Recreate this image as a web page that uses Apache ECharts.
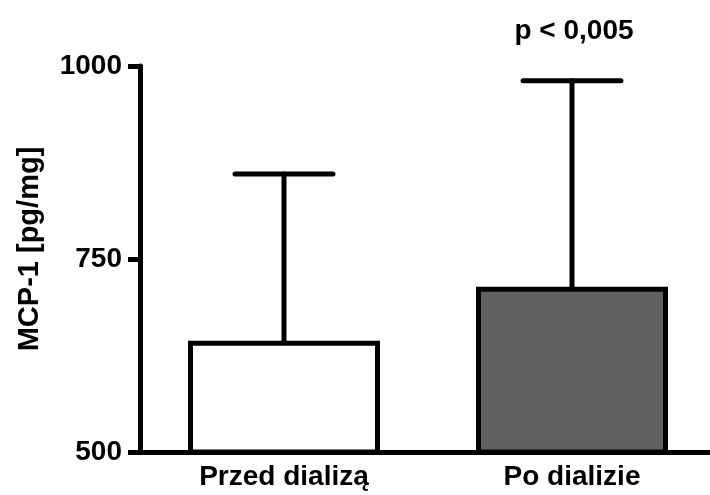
<!DOCTYPE html>
<html>
<head>
<meta charset="utf-8">
<script src="https://cdn.jsdelivr.net/npm/echarts@6/dist/echarts.min.js"></script>
<style>
  html, body { margin: 0; padding: 0; background: #fff; }
  #chart { width: 710px; height: 495px; }
</style>
</head>
<body>
<div id="chart"></div>
<script>
const categories = ['Przed dializą', 'Po dializie'];
const means = [644, 714];
const sdUp = [216, 267];
const barColors = ['#ffffff', '#616161'];
const yTicks = [500, 750, 1000];
const pText = 'p < 0,005';

const font = 'Arial, "Liberation Sans", sans-serif';
const chart = echarts.init(document.getElementById('chart'));

const errData = means.map((m, i) => [i, m, m + sdUp[i]]);

const op = {
  animation: false,
  grid: {
    left: 140,
    width: 576,
    top: 66,
    bottom: 43,
    outerBoundsMode: 'none',
    containLabel: false
  },
  xAxis: {
    type: 'category',
    data: categories,
    axisLine: { lineStyle: { color: '#000', width: 5 } },
    axisTick: { alignWithLabel: true, length: 8, lineStyle: { color: '#000', width: 4 } },
    axisLabel: {
      margin: 11,
      color: '#000',
      fontFamily: font,
      fontWeight: 'bold',
      fontSize: 28
    }
  },
  yAxis: {
    type: 'value',
    min: yTicks[0],
    max: yTicks[yTicks.length - 1],
    interval: 250,
    name: 'MCP-1 [pg/mg]',
    nameLocation: 'middle',
    nameGap: 96,
    nameTextStyle: {
      color: '#000',
      fontFamily: font,
      fontWeight: 'bold',
      fontSize: 29,
      padding: [0, 0, 0, 20]
    },
    splitLine: { show: false },
    axisLine: { show: true, lineStyle: { color: '#000', width: 5 } },
    axisTick: { show: true, length: 12, lineStyle: { color: '#000', width: 5 } },
    axisLabel: {
      margin: 18,
      color: '#000',
      fontFamily: font,
      fontWeight: 'bold',
      fontSize: 28,
      formatter: v => String(v)
    }
  },
  series: [
    {
      type: 'bar',
      barWidth: 192,
      z: 2,
      data: means.map((v, i) => ({
        value: v,
        itemStyle: { color: barColors[i], borderColor: '#000', borderWidth: 5 }
      }))
    },
    {
      // error bars (mean -> mean + SD)
      type: 'custom',
      z: 3,
      renderItem: function (params, api) {
        const base = api.coord([api.value(0), api.value(1)]);
        const top = api.coord([api.value(0), api.value(2)]);
        const half = api.size([1, 0])[0] * 0.17;
        const style = { stroke: '#000', lineWidth: 5, lineCap: 'round' };
        return {
          type: 'group',
          children: [
            { type: 'line', shape: { x1: base[0], y1: base[1], x2: top[0], y2: top[1] }, style: style },
            { type: 'line', shape: { x1: top[0] - half, y1: top[1], x2: top[0] + half, y2: top[1] }, style: style }
          ]
        };
      },
      data: errData
    }
  ],
  graphic: [
    {
      type: 'text',
      x: 574,
      y: 31,
      style: {
        text: pText,
        fill: '#000',
        font: 'bold 28px ' + font,
        textAlign: 'center',
        textVerticalAlign: 'middle'
      }
    }
  ]
};

chart.setOption(op);
</script>
</body>
</html>
